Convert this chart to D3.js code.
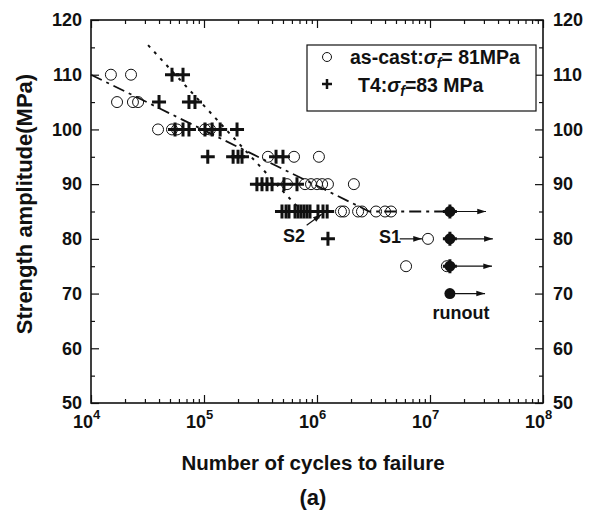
<!DOCTYPE html>
<html>
<head>
<meta charset="utf-8">
<script src="https://cdn.jsdelivr.net/npm/d3@7"></script>
<style>
body { margin: 0; background: #fff; }
text { font-family: "Liberation Sans", Arial, Helvetica, sans-serif; font-weight: bold; fill: #111; }
</style>
</head>
<body>
<svg id="chart" width="614" height="516"></svg>
<script>
// as-cast specimens (open circles)
var asCastN = [1.5e4, 2.26e4,
  1.7e4, 2.35e4, 2.61e4,
  3.92e4, 5.21e4, 5.77e4, 1.02e5, 1.13e5,
  3.68e5, 6.26e5, 1.04e6,
  5.43e5, 7.83e5, 8.85e5, 1.0e6, 1.11e6, 1.25e6, 2.12e6,
  1.63e6, 1.73e6, 2.31e6, 2.5e6, 3.33e6, 4.0e6, 4.52e6,
  9.6e6,
  6.14e6, 1.41e7];
var asCastS = [110, 110,
  105, 105, 105,
  100, 100, 100, 100, 100,
  95, 95, 95,
  90, 90, 90, 90, 90, 90, 90,
  85, 85, 85, 85, 85, 85, 85,
  80,
  75, 75];

// T4 specimens (crosses)
var t4N = [5.21e4, 6.52e4,
  4.0e4, 7.36e4, 8.32e4,
  5.54e4, 6.52e4, 7.36e4, 1.02e5, 1.18e5, 1.39e5, 1.96e5,
  1.08e5, 1.81e5, 2.0e5, 2.17e5, 4.34e5, 5.0e5,
  2.94e5, 3.26e5, 3.61e5, 4.0e5, 5.1e5, 6.65e5,
  4.9e5, 5.32e5, 5.65e5, 6.39e5, 6.79e5, 7.21e5, 7.67e5, 8.16e5, 8.67e5, 1.02e6, 1.13e6, 1.23e6,
  1.25e6];
var t4S = [110, 110,
  105, 105, 105,
  100, 100, 100, 100, 100, 100, 100,
  95, 95, 95, 95, 95, 95,
  90, 90, 90, 90, 90, 90,
  85, 85, 85, 85, 85, 85, 85, 85, 85, 85, 85, 85,
  80];

// runouts
var runoutN = [1.5e7, 1.5e7, 1.5e7, 1.5e7];
var runoutS = [85, 80, 75, 70];
var runoutCross = [true, true, true, false];
var runoutEndN = [3.13e7, 3.6e7, 3.54e7, 3.07e7];

// fitted lines
var asCastFitN = [1e4, 2.9e6, 1.5e7];
var asCastFitS = [110, 85, 85];
var t4FitN = [3.2e4, 7.1e5];
var t4FitS = [115.4, 85.3];

// axis ticks
var yTicks = [50, 60, 70, 80, 90, 100, 110, 120];
var yMinor = [55, 65, 75, 85, 95, 105, 115];
var xExp = [4, 5, 6, 7, 8];

var svg = d3.select("#chart");
var margin = { top: 20, right: 71, bottom: 113, left: 91 };
var width = 614 - margin.left - margin.right;
var height = 516 - margin.top - margin.bottom;
var g = svg.append("g").attr("transform", "translate(" + margin.left + "," + margin.top + ")");

var x = d3.scaleLog().domain([1e4, 1e8]).range([0, width]);
var y = d3.scaleLinear().domain([50, 120]).range([height, 0]);

var xMajor = xExp.map(function (e) { return Math.pow(10, e); });
var xMinor = [];
xExp.slice(0, 4).forEach(function (e) {
  [2, 3, 4, 5, 6, 7, 8, 9].forEach(function (k) { xMinor.push(k * Math.pow(10, e)); });
});

// arrowhead
svg.append("defs").append("marker")
  .attr("id", "arrow")
  .attr("viewBox", "0 -4 10 8")
  .attr("refX", 10).attr("refY", 0)
  .attr("markerWidth", 10).attr("markerHeight", 7)
  .attr("markerUnits", "userSpaceOnUse")
  .attr("orient", "auto")
  .append("path").attr("d", "M0,-3.2L10,0L0,3.2Z").attr("fill", "#111");

function styleAxis(sel) {
  sel.select(".domain").remove();
  sel.selectAll("line").attr("stroke", "#111").attr("stroke-width", 1.2);
  sel.attr("font-size", 18).attr("font-family", "Liberation Sans, Arial, sans-serif");
  sel.selectAll("text").attr("fill", "#111");
}

// y axes
g.append("g").call(d3.axisLeft(y).tickValues(yTicks).tickSizeInner(-8).tickSizeOuter(0).tickPadding(9)).call(styleAxis);
g.append("g").call(d3.axisLeft(y).tickValues(yMinor).tickSizeInner(-4).tickSizeOuter(0).tickFormat("")).call(styleAxis);
g.append("g").attr("transform", "translate(" + width + ",0)")
  .call(d3.axisRight(y).tickValues(yTicks).tickSizeInner(-8).tickSizeOuter(0).tickPadding(10)).call(styleAxis);
g.append("g").attr("transform", "translate(" + width + ",0)")
  .call(d3.axisRight(y).tickValues(yMinor).tickSizeInner(-4).tickSizeOuter(0).tickFormat("")).call(styleAxis);

// x axes
var xb = g.append("g").attr("transform", "translate(0," + height + ")")
  .call(d3.axisBottom(x).tickValues(xMajor).tickSizeInner(-8).tickSizeOuter(0).tickFormat(function () { return ""; }))
  .call(styleAxis);
g.append("g").attr("transform", "translate(0," + height + ")")
  .call(d3.axisBottom(x).tickValues(xMinor).tickSizeInner(-4).tickSizeOuter(0).tickFormat("")).call(styleAxis);
g.append("g").call(d3.axisTop(x).tickValues(xMajor).tickSizeInner(-8).tickSizeOuter(0).tickFormat("")).call(styleAxis);
g.append("g").call(d3.axisTop(x).tickValues(xMinor).tickSizeInner(-4).tickSizeOuter(0).tickFormat("")).call(styleAxis);

xb.selectAll(".tick text").each(function (d) {
  var t = d3.select(this).attr("y", 25).attr("dy", null).attr("dx", -5);
  t.append("tspan").text("10");
  t.append("tspan").attr("font-size", 13).attr("dy", -9).text(Math.round(Math.log10(d)));
});

// frame
g.append("rect").attr("width", width).attr("height", height)
  .attr("fill", "none").attr("stroke", "#111").attr("stroke-width", 1.6);

// fit lines
var line = d3.line().x(function (d) { return x(d[0]); }).y(function (d) { return y(d[1]); });
g.append("path")
  .datum(d3.zip(asCastFitN, asCastFitS))
  .attr("d", line).attr("fill", "none").attr("stroke", "#111")
  .attr("stroke-width", 1.8).attr("stroke-dasharray", "12,5,3,5");
g.append("path")
  .datum(d3.zip(t4FitN, t4FitS))
  .attr("d", line).attr("fill", "none").attr("stroke", "#111")
  .attr("stroke-width", 2).attr("stroke-dasharray", "3,6");

// runout arrows
g.selectAll(".runarrow").data(d3.range(runoutN.length)).enter().append("line")
  .attr("class", "runarrow")
  .attr("x1", function (i) { return x(runoutN[i]); })
  .attr("x2", function (i) { return x(runoutEndN[i]); })
  .attr("y1", function (i) { return y(runoutS[i]); })
  .attr("y2", function (i) { return y(runoutS[i]); })
  .attr("stroke", "#111").attr("stroke-width", 1.2)
  .attr("marker-end", "url(#arrow)");

// as-cast circles
g.selectAll(".ascast").data(d3.zip(asCastN, asCastS)).enter().append("circle")
  .attr("class", "ascast")
  .attr("cx", function (d) { return x(d[0]); })
  .attr("cy", function (d) { return y(d[1]); })
  .attr("r", 5.5)
  .attr("fill", "none").attr("stroke", "#111").attr("stroke-width", 1);

// T4 crosses
var cross = "M-7,0H7M0,-7V7";
g.selectAll(".t4").data(d3.zip(t4N, t4S)).enter().append("path")
  .attr("class", "t4")
  .attr("d", cross)
  .attr("transform", function (d) { return "translate(" + x(d[0]) + "," + y(d[1]) + ")"; })
  .attr("stroke", "#111").attr("stroke-width", 3).attr("fill", "none");

// runout markers
g.selectAll(".runout").data(d3.range(runoutN.length)).enter().append("circle")
  .attr("class", "runout")
  .attr("cx", function (i) { return x(runoutN[i]); })
  .attr("cy", function (i) { return y(runoutS[i]); })
  .attr("r", 5.5).attr("fill", "#111");
g.selectAll(".runcross").data(d3.range(runoutN.length).filter(function (i) { return runoutCross[i]; })).enter().append("path")
  .attr("class", "runcross")
  .attr("d", cross)
  .attr("transform", function (i) { return "translate(" + x(runoutN[i]) + "," + y(runoutS[i]) + ")"; })
  .attr("stroke", "#111").attr("stroke-width", 3);

// annotations
g.append("text").attr("x", x(5.0e5)).attr("y", y(79.4)).attr("font-size", 18).text("S2");
g.append("line")
  .attr("x1", x(8.1e5)).attr("y1", y(82.5)).attr("x2", x(1.1e6)).attr("y2", y(84.5))
  .attr("stroke", "#111").attr("stroke-width", 1.2).attr("marker-end", "url(#arrow)");
g.append("text").attr("x", x(3.54e6)).attr("y", y(79.2)).attr("font-size", 18).text("S1");
g.append("line")
  .attr("x1", x(5.4e6)).attr("y1", y(80)).attr("x2", x(8.5e6)).attr("y2", y(80))
  .attr("stroke", "#111").attr("stroke-width", 1.2).attr("marker-end", "url(#arrow)");
g.append("text").attr("x", x(1.88e7)).attr("y", y(65.3)).attr("text-anchor", "middle")
  .attr("font-size", 18).text("runout");

// legend
var lg = svg.append("g").attr("transform", "translate(307,45)");
lg.append("rect").attr("width", 229).attr("height", 66)
  .attr("fill", "#fff").attr("stroke", "#111").attr("stroke-width", 1.2);
lg.append("circle").attr("cx", 20).attr("cy", 12).attr("r", 4.5)
  .attr("fill", "none").attr("stroke", "#111").attr("stroke-width", 1);
lg.append("path").attr("d", "M-5,0H5M0,-5V5").attr("transform", "translate(20,39)")
  .attr("stroke", "#111").attr("stroke-width", 2.5);
var t1 = lg.append("text").attr("x", 43).attr("y", 19).attr("font-size", 19.5);
t1.append("tspan").text("as-cast:");
t1.append("tspan").attr("font-style", "italic").text("σ");
t1.append("tspan").attr("font-style", "italic").attr("font-size", 14).attr("dy", 4).text("f");
t1.append("tspan").attr("dy", -4).text("= 81MPa");
var t2 = lg.append("text").attr("x", 51).attr("y", 47).attr("font-size", 19.5);
t2.append("tspan").text("T4:");
t2.append("tspan").attr("font-style", "italic").text("σ");
t2.append("tspan").attr("font-style", "italic").attr("font-size", 14).attr("dy", 4).text("f");
t2.append("tspan").attr("dy", -4).text("=83 MPa");

// axis titles
svg.append("text").attr("x", margin.left + width / 2 - 4).attr("y", 470)
  .attr("text-anchor", "middle").attr("font-size", 20.5).text("Number of cycles to failure");
svg.append("text").attr("x", margin.left + width / 2 - 4).attr("y", 505)
  .attr("text-anchor", "middle").attr("font-size", 22).text("(a)");
svg.append("text").attr("transform", "translate(32,204) rotate(-90)")
  .attr("text-anchor", "middle").attr("font-size", 22).text("Strength amplitude(MPa)");
</script>
</body>
</html>
